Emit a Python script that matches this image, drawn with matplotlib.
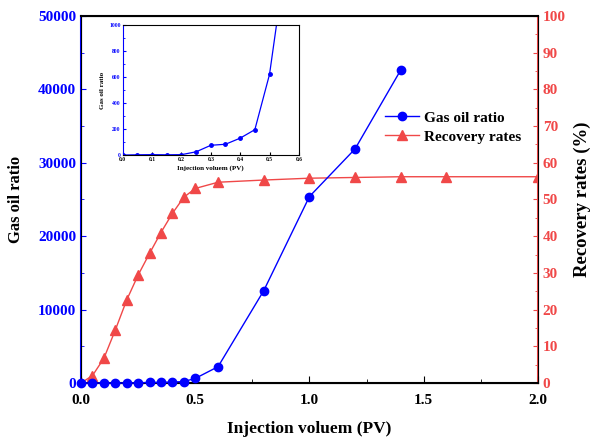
import matplotlib
matplotlib.use("Agg")
import matplotlib.pyplot as plt
from matplotlib.ticker import MultipleLocator

plt.rcParams["font.family"] = ["Liberation Serif", "DejaVu Serif"]
plt.rcParams["font.weight"] = "bold"

# injection volume (PV) and measurements
pv_gor = [0.0, 0.05, 0.1, 0.15, 0.2, 0.25, 0.3, 0.35, 0.4, 0.45, 0.5, 0.6, 0.8, 1.0, 1.2, 1.4]
gas_oil_ratio = [0, 2, 3, 2, 3, 25, 75, 83, 130, 195, 620, 2220, 12580, 25400, 31900, 42650]

pv_rec = [0.0, 0.05, 0.1, 0.15, 0.2, 0.25, 0.3, 0.35, 0.4, 0.45, 0.5, 0.6, 0.8, 1.0, 1.2, 1.4, 1.6, 2.0]
recovery = [0, 2.0, 6.7, 14.4, 22.6, 29.4, 35.3, 41.0, 46.2, 50.6, 53.0, 54.7, 55.3, 55.8, 56.0, 56.2, 56.2, 56.2]

BLUE = "#0000ff"
RED = "#f04848"

fig = plt.figure(figsize=(5.93, 4.38), dpi=100)
ax = fig.add_axes([0.1366, 0.1256, 0.7704, 0.8379])
ax2 = ax.twinx()

l1, = ax.plot(pv_gor, gas_oil_ratio, color=BLUE, marker="o", markersize=6, linewidth=1,
              label="Gas oil ratio", clip_on=False, zorder=3)
l2, = ax2.plot(pv_rec, recovery, color=RED, marker="^", markersize=7, linewidth=1,
               label="Recovery rates", zorder=2)

ax.set_xlim(0, 2.0)
ax.set_ylim(0, 50000)
ax2.set_ylim(0, 100)
ax.xaxis.set_major_locator(MultipleLocator(0.5))
ax.xaxis.set_minor_locator(MultipleLocator(0.25))
ax.yaxis.set_major_locator(MultipleLocator(10000))
ax.yaxis.set_minor_locator(MultipleLocator(5000))
ax2.yaxis.set_major_locator(MultipleLocator(10))
ax2.yaxis.set_minor_locator(MultipleLocator(5))

ax.tick_params(axis="both", which="both", direction="in", labelsize=11)
ax.tick_params(axis="y", which="both", colors=BLUE, labelcolor=BLUE)
ax.tick_params(axis="x", which="major", length=5, pad=8)
ax.tick_params(axis="x", which="minor", length=3)
ax2.tick_params(axis="y", which="both", direction="in", colors=RED, labelcolor=RED, labelsize=11)

for t in ax.get_xticklabels() + ax.get_yticklabels() + ax2.get_yticklabels():
    t.set_fontweight("bold")

ax2.spines["left"].set_color(BLUE)
ax2.spines["left"].set_linewidth(1.5)
ax2.spines["right"].set_color(RED)
ax2.spines["right"].set_linewidth(1.5)
ax2.spines["bottom"].set_linewidth(1.5)
ax2.spines["top"].set_linewidth(1.5)

ax.set_xlabel("Injection voluem (PV)", fontsize=12.5, fontweight="bold", labelpad=10)
ax.set_ylabel("Gas oil ratio", fontsize=12, fontweight="bold", labelpad=10)
ax2.set_ylabel("Recovery rates (%)", fontsize=13.5, fontweight="bold", labelpad=6)

ax.set_zorder(ax2.get_zorder() + 1)
ax.patch.set_visible(False)

ax2.legend([l1, l2], ["Gas oil ratio", "Recovery rates"], loc="upper left",
           bbox_to_anchor=(0.653, 0.758), frameon=False, fontsize=11,
           handlelength=2.2, handletextpad=0.3, borderaxespad=0, labelspacing=0.35)

# inset: early-stage gas oil ratio
ins = fig.add_axes([0.207, 0.646, 0.297, 0.297])
ins.plot(pv_gor, gas_oil_ratio, color=BLUE, marker="o", markersize=2.5, linewidth=0.9)
ins.set_xlim(0, 0.6)
ins.set_ylim(0, 1000)
ins.xaxis.set_major_locator(MultipleLocator(0.1))
ins.yaxis.set_major_locator(MultipleLocator(200))
ins.yaxis.set_minor_locator(MultipleLocator(100))
ins.tick_params(axis="both", which="both", direction="in", labelsize=4, pad=1.5)
ins.tick_params(axis="y", which="both", colors=BLUE, labelcolor=BLUE)
ins.tick_params(axis="x", which="major", length=2.5)
ins.tick_params(axis="y", which="major", length=2.5)
ins.tick_params(axis="y", which="minor", length=1.5)
for t in ins.get_xticklabels() + ins.get_yticklabels():
    t.set_fontweight("bold")
ins.spines["left"].set_color(BLUE)
ins.set_xlabel("Injection voluem (PV)", fontsize=5, fontweight="bold", labelpad=2)
ins.set_ylabel("Gas oil ratio", fontsize=5, fontweight="bold", labelpad=3)

fig.savefig("out.png", dpi=100)
